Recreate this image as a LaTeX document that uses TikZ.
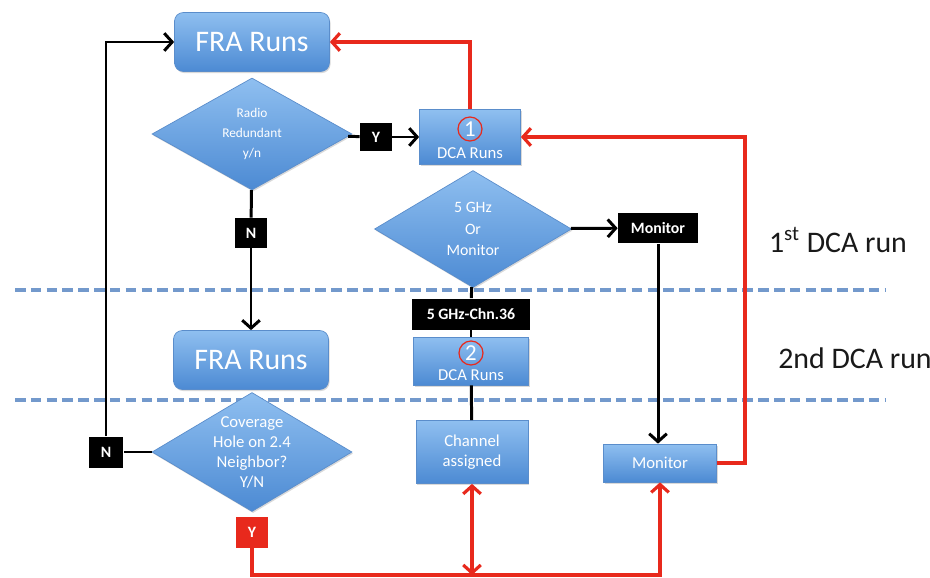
\documentclass[tikz,border=0pt]{standalone}
\usepackage{fontspec}
\setmainfont{Carlito}
\usepackage{xcolor}
\usetikzlibrary{arrows.meta,shapes.geometric,shadows}

\definecolor{boxtop}{HTML}{8FBFF0}
\definecolor{boxbot}{HTML}{4C8AD3}
\definecolor{boxline}{HTML}{5A8DCB}
\definecolor{linkred}{HTML}{E8291C}
\definecolor{runline}{HTML}{7399CC}

\begin{document}
\begin{tikzpicture}[x=0.02cm,y=-0.02cm,>={Straight Barb[length=4.5pt,width=10pt]},
	box/.style={rectangle,draw=boxline,top color=boxtop,bottom color=boxbot,text=white,align=center,inner sep=0pt,
		drop shadow={shadow xshift=.6pt,shadow yshift=-.9pt,opacity=.3}},
	fra/.style={box,rounded corners=5pt,minimum width=3.1cm,minimum height=1.18cm,font=\fontsize{17}{20}\selectfont},
	decision/.style={diamond,draw=boxline,top color=boxtop,bottom color=boxbot,inner sep=0pt,
		drop shadow={shadow xshift=.6pt,shadow yshift=-.9pt,opacity=.3}},
	dtext/.style={text=white,align=center,inner sep=0pt},
	small/.style={font=\fontsize{9.5}{11.5}\selectfont},
	tag/.style={rectangle,fill=black,text=white,inner sep=0pt,font=\bfseries\fontsize{9}{11}\selectfont},
	numring/.style={circle,draw=linkred,line width=.7pt,text=white,inner sep=0pt,minimum size=0.48cm,font=\fontsize{13}{13}\selectfont},
	flow/.style={draw=black,line width=1.7pt},
	redflow/.style={draw=linkred,line width=1.8pt},
	runsep/.style={draw=runline,line width=1.8pt,dash pattern=on 6pt off 3pt},
	runlabel/.style={text=black!90,font=\fontsize{17}{20}\selectfont}]
	\useasboundingbox (0,0) rectangle (930,578);
	%
	\draw[runsep] (15,290) -- (885,290);
	\draw[runsep] (15,400) -- (885,400);
	%
	\node[fra] (F1) at (252,42) {FRA Runs};
	\node[decision,minimum width=4cm,minimum height=2.24cm,
		label={[dtext,font=\fontsize{7.6}{11.2}\selectfont]center:Radio\\Redundant\\y/n}] (D1) at (252,134) {};
	\node[tag,minimum width=0.64cm,minimum height=0.58cm] (Y1) at (376,137) {Y};
	\node[box,minimum width=2.02cm,minimum height=1.1cm] (R1) at (470,137) {};
	\node[numring] (C1) at (470,129) {1};
	\node[small,text=white] (R1t) at (470,153) {DCA Runs};
	\node[tag,minimum width=0.66cm,minimum height=0.6cm] (N1) at (251,233) {N};
	\node[decision,minimum width=3.94cm,minimum height=2.34cm,
		label={[dtext,font=\fontsize{9}{12}\selectfont]center:5 GHz\\Or\\Monitor}] (D2) at (473,229) {};
	\node[tag,minimum width=1.6cm,minimum height=0.62cm] (M1) at (658,228) {Monitor};
	\node[tag,minimum width=2.36cm,minimum height=0.62cm] (T1) at (471,314) {5 GHz-Chn.36};
	\node[fra] (F2) at (251,360) {FRA Runs};
	\node[box,minimum width=2.3cm,minimum height=0.96cm] (R2) at (471,361) {};
	\node[numring] (C2) at (471,353) {2};
	\node[small,text=white] (R2t) at (471,375) {DCA Runs};
	\node[decision,minimum width=4cm,minimum height=2.38cm,
		label={[dtext,font=\fontsize{9.5}{11.4}\selectfont]center:Coverage\\Hole on 2.4\\Neighbor?\\Y/N}] (D3) at (252,452) {};
	\node[tag,minimum width=0.7cm,minimum height=0.62cm] (N2) at (106,452) {N};
	\node[box,small,minimum width=2.24cm,minimum height=1.26cm] (A1) at (472,452) {Channel\\assigned};
	\node[box,small,minimum width=2.26cm,minimum height=0.76cm] (M2) at (660,463) {Monitor};
	\node[tag,fill=linkred,minimum width=0.64cm,minimum height=0.62cm] (Y2) at (252,532) {Y};
	\node[runlabel] (L1) at (838,240) {1\textsuperscript{st} DCA run};
	\node[runlabel] (L2) at (855,358) {2nd DCA run};
	%
	\coordinate (cR) at (745,463);
	\coordinate (cB) at (660,575);
	%
	\draw[flow] (D1) -- (Y1);
	\draw[flow,->] (Y1) -- (R1);
	\draw[flow] (D1) -- (N1);
	\draw[flow,->] (N1) -- (F2);
	\draw[flow,->] (D2) -- (M1);
	\draw[flow,->] (M1) -- (M1 |- M2.north);
	\draw[flow] (D2) -- (T1);
	\draw[flow] (T1) -- (R2);
	\draw[flow] (R2) -- (A1);
	\draw[flow] (D3) -- (N2);
	\draw[flow,->] (N2) |- (F1);
	\draw[redflow,->] (R1) |- (F1);
	\draw[redflow,->] (M2) -- (cR) |- (R1);
	\draw[redflow,->] (Y2) |- (cB) -- (M2);
	\draw[redflow,<->] (A1) -- (A1 |- cB);
\end{tikzpicture}
\end{document}
